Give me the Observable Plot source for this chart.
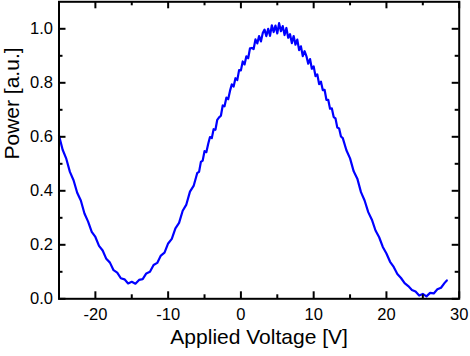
<!DOCTYPE html>
<html><head><meta charset="utf-8">
<script src="https://cdn.jsdelivr.net/npm/d3@7"></script>
<script src="https://cdn.jsdelivr.net/npm/@observablehq/plot@0.6"></script>
<style>body{margin:0;background:#fff}</style>
</head><body><div id="chart"></div>
<script>
const voltage = [-25,-24.5,-24,-23.5,-23,-22.5,-22,-21.5,-21,-20.5,-20,-19.5,-19,-18.5,-18,-17.5,-17,-16.5,-16,-15.5,-15,-14.5,-14,-13.5,-13,-12.5,-12,-11.5,-11,-10.5,-10,-9.5,-9,-8.5,-8,-7.5,-7,-6.5,
  -6,-5.75,-5.5,-5.25,-5,-4.75,-4.5,-4.25,-4,-3.75,-3.5,-3.25,-3,-2.75,-2.5,-2.25,-2,-1.75,-1.5,-1.25,-1,-0.75,-0.5,-0.25,0,0.25,0.5,0.75,1,1.25,1.5,1.75,2,2.25,2.5,2.75,3,3.25,3.5,3.75,4,4.25,4.5,4.75,5,5.25,5.5,5.75,6,6.25,6.5,6.75,7,7.25,7.5,7.75,8,8.25,8.5,8.75,9,9.25,9.5,9.75,10,10.25,10.5,10.75,11,11.25,11.5,11.75,12,12.25,12.5,12.75,13,13.25,13.5,13.75,14,
  14.5,15,15.5,16,16.5,17,17.5,18,18.5,19,19.5,20,20.5,21,21.5,22,22.5,23,23.5,24,24.5,25,25.5,26,26.5,27,27.5,28,28.3];
const power = [0.605,0.552,0.519,0.470,0.439,0.393,0.364,0.316,0.286,0.248,0.229,0.196,0.179,0.148,0.134,0.106,0.097,0.076,0.072,0.057,0.063,0.056,0.070,0.073,0.094,0.100,0.125,0.133,0.160,0.171,0.205,0.222,0.261,0.281,0.326,0.349,0.397,0.418,
  0.466,0.470,0.507,0.512,0.547,0.543,0.573,0.599,0.595,0.628,0.626,0.663,0.672,0.678,0.716,0.713,0.745,0.739,0.770,0.794,0.786,0.817,0.810,0.847,0.846,0.879,0.868,0.898,0.891,0.928,0.929,0.925,0.961,0.946,0.973,0.953,0.984,0.997,0.973,1.000,0.974,1.013,0.988,1.012,0.983,1.021,0.991,1.010,0.977,1.003,0.967,0.980,0.947,0.973,0.941,0.960,0.921,0.935,0.899,0.917,0.899,0.871,0.888,0.852,0.861,0.825,0.831,0.795,0.804,0.773,0.774,0.737,0.737,0.704,0.705,0.673,0.668,0.634,0.631,0.601,0.595,
  0.550,0.520,0.472,0.445,0.395,0.364,0.321,0.293,0.253,0.228,0.192,0.168,0.137,0.118,0.092,0.077,0.058,0.047,0.033,0.027,0.012,0.018,0.009,0.022,0.020,0.035,0.041,0.059,0.068];
const xMajor = [-20,-10,0,10,20,30];
const xMinor = [-15,-5,5,15,25];
const yMajor = [0,0.2,0.4,0.6,0.8,1.0];
const yMinor = [0.1,0.3,0.5,0.7,0.9];
const xTitle = "Applied Voltage [V]";
const yTitle = "Power [a.u.]";

const W = 470, H = 356;
const mL = 58.5, mR = 11.3, mT = 1.3, mB = 57.7;
const iW = W - mL - mR, iH = H - mT - mB;
const data = voltage.map((v, i) => ({v, p: power[i]}));
const tk = {stroke: "black", strokeWidth: 2};

const chart = Plot.plot({
  width: W, height: H,
  marginLeft: mL, marginRight: mR, marginTop: mT, marginBottom: mB,
  style: {fontFamily: "'Liberation Sans', Arial, sans-serif", fontSize: "16.5px", background: "#fff", color: "black", overflow: "visible"},
  x: {domain: [-25, 30]},
  y: {domain: [0, 1.1]},
  marks: [
    Plot.line(data, {x: "v", y: "p", stroke: "#0000ff", strokeWidth: 2.2}),
    Plot.ruleX(xMajor, {...tk, insetTop: iH - 7}),
    Plot.ruleX(xMajor, {...tk, insetBottom: iH - 7}),
    Plot.ruleX(xMinor, {...tk, insetTop: iH - 4}),
    Plot.ruleX(xMinor, {...tk, insetBottom: iH - 4}),
    Plot.ruleY(yMajor, {...tk, insetRight: iW - 7}),
    Plot.ruleY(yMajor, {...tk, insetLeft: iW - 7}),
    Plot.ruleY(yMinor, {...tk, insetRight: iW - 4}),
    Plot.ruleY(yMinor, {...tk, insetLeft: iW - 4}),
    Plot.frame({stroke: "black", strokeWidth: 2}),
    Plot.axisX({ticks: xMajor, tickSize: 0, tickPadding: 9, label: null, fontSize: 16.5, tickFormat: d => String(d)}),
    Plot.axisY({ticks: yMajor, tickSize: 0, tickPadding: 6, tickFormat: d => d.toFixed(1), label: null, fontSize: 16.5}),
    Plot.text([xTitle], {text: d => d, frameAnchor: "bottom", dy: 45.5, fontSize: 21}),
    Plot.text([yTitle], {text: d => d, frameAnchor: "left", rotate: -90, dx: -47, dy: 9.2, fontSize: 21})
  ]
});
document.getElementById("chart").appendChild(chart);
</script>
</body></html>
